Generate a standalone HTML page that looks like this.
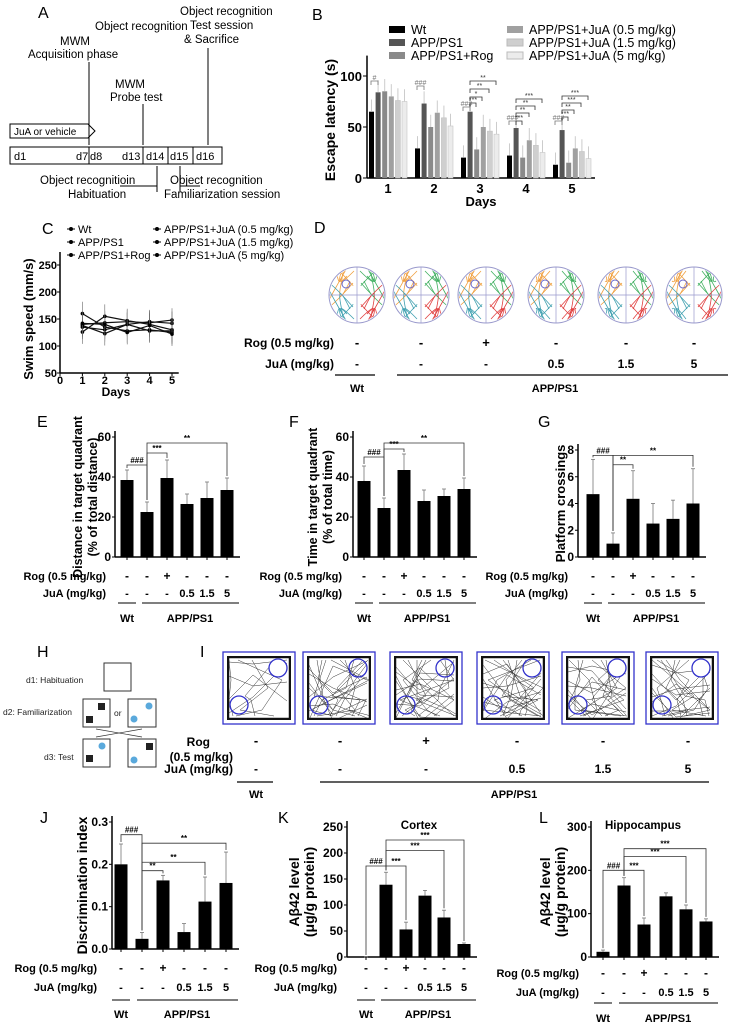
<!DOCTYPE html>
<html><head><meta charset="utf-8">
<style>
body{margin:0;background:#fff;}
svg{display:block;font-family:"Liberation Sans",Arial,sans-serif;}
</style></head>
<body>
<svg id="fig" width="732" height="1026" viewBox="0 0 732 1026" xmlns="http://www.w3.org/2000/svg">
<defs id="defs"></defs>
<g font-size="16" fill="#000">
<text x="38" y="18">A</text><text x="312" y="20">B</text><text x="42" y="234">C</text>
<text x="314" y="233">D</text><text x="37" y="427">E</text><text x="289" y="427">F</text>
<text x="538" y="427">G</text><text x="37" y="657">H</text><text x="200" y="657">I</text>
<text x="40" y="823">J</text><text x="278" y="823">K</text><text x="539" y="823">L</text>
</g>
<g id="panelA" font-size="11.5">
<text x="95" y="30">Object recognition</text>
<text x="60" y="45">MWM</text><text x="28" y="58">Acquisition phase</text>
<text x="180" y="15">Object recognition</text><text x="190" y="29">Test session</text><text x="184" y="43">&amp; Sacrifice</text>
<text x="115" y="88">MWM</text><text x="110" y="101">Probe test</text>
<path d="M10 124 H88 L95 131 L88 138 H10 Z" fill="none" stroke="#000"/>
<text x="14" y="135" font-size="10">JuA or vehicle</text>
<rect x="10" y="147" width="212" height="17" fill="none" stroke="#000"/>
<g font-size="11"><text x="14" y="160">d1</text><text x="76" y="160">d7</text><text x="90" y="160">d8</text><text x="122" y="160">d13</text><text x="146" y="160">d14</text><text x="170" y="160">d15</text><text x="196" y="160">d16</text></g>
<g stroke="#000"><line x1="89" y1="147" x2="89" y2="164"/><line x1="143" y1="147" x2="143" y2="164"/><line x1="168" y1="147" x2="168" y2="164"/><line x1="193" y1="147" x2="193" y2="164"/>
<line x1="89" y1="62" x2="89" y2="145"/><line x1="143" y1="104" x2="143" y2="145"/><line x1="208" y1="48" x2="208" y2="145"/>
<line x1="157" y1="166" x2="157" y2="192"/><line x1="180" y1="166" x2="180" y2="192"/><line x1="120" y1="186" x2="157" y2="186"/><line x1="180" y1="186" x2="200" y2="186"/></g>
<text x="40" y="184">Object recognitioin</text><text x="68" y="198">Habituation</text>
<text x="170" y="184">Object recognition</text><text x="164" y="198">Familiarization session</text>
</g>
<g id="panelB"></g>
<g id="panelC"></g>
<g id="panelD"></g>
<g id="panelE"></g>
<g id="panelF"></g>
<g id="panelG"></g>
<g id="panelH" font-size="8.5" fill="#222">
<text x="26" y="683">d1: Habituation</text><rect x="104" y="663" width="27" height="28" fill="none" stroke="#333"/>
<text x="3" y="715">d2: Familiarization</text>
<rect x="83" y="699" width="27" height="28" fill="none" stroke="#333"/><rect x="86" y="716" width="7" height="7"/><rect x="98" y="703" width="7" height="7"/>
<text x="114" y="716">or</text>
<rect x="128" y="699" width="28" height="28" fill="none" stroke="#333"/><circle cx="134" cy="719" r="3.5" fill="#5aa9dc"/><circle cx="149" cy="706" r="3.5" fill="#5aa9dc"/>
<line x1="96" y1="729" x2="142" y2="737" stroke="#333" stroke-width="0.7"/><line x1="142" y1="729" x2="96" y2="737" stroke="#333" stroke-width="0.7"/>
<text x="44" y="760">d3: Test</text>
<rect x="83" y="739" width="27" height="28" fill="none" stroke="#333"/><circle cx="102" cy="746" r="3.5" fill="#5aa9dc"/><rect x="86" y="755" width="7" height="7"/>
<rect x="128" y="739" width="28" height="28" fill="none" stroke="#333"/><rect x="146" y="743" width="7" height="7"/><circle cx="134" cy="760" r="3.5" fill="#5aa9dc"/>
</g>
<g id="panelI"></g>
<g id="panelJ"></g>
<g id="panelK"></g>
<g id="panelL"></g>
</svg>
<script>
// ---- data ----
const bDays = ["1","2","3","4","5"];
const bSeriesNames = ["Wt","APP/PS1","APP/PS1+Rog","APP/PS1+JuA (0.5 mg/kg)","APP/PS1+JuA (1.5 mg/kg)","APP/PS1+JuA (5 mg/kg)"];
const bWt = [65,29,20,22,13];
const bApp = [84,73,65,49,47];
const bRog = [85,50,28,20,15];
const bJuA05 = [80,64,50,37,29];
const bJuA15 = [76,59,46,32,26];
const bJuA5 = [75,51,43,25,19];
const bTicks = [0,50,100];
const cDays = [1,2,3,4,5];
const cWt = [140,143,145,143,148];
const cApp = [160,135,128,130,125];
const cRog = [126,155,147,140,130];
const cJuA05 = [138,123,140,145,142];
const cJuA15 = [135,130,140,128,128];
const cJuA5 = [142,140,125,138,122];
const cTicks = [50,100,150,200,250];
const groupRog = ["-","-","+","-","-","-"];
const groupJuA = ["-","-","-","0.5","1.5","5"];
const eVals = [38.5,22.5,39.5,26.5,29.5,33.5];
const eErr = [5,5,9,5,8,6];
const eTicks = [0,20,40,60];
const fVals = [38,24.5,43.5,28,30.5,34];
const fErr = [7.5,5,8,5.5,3.5,5.5];
const fTicks = [0,20,40,60];
const gVals = [4.7,1.0,4.35,2.5,2.85,4.0];
const gErr = [2.6,0.8,2.1,1.5,1.4,2.6];
const gTicks = [0,2,4,6,8];
const jVals = [0.2,0.024,0.162,0.04,0.112,0.156];
const jErr = [0.048,0.015,0.012,0.02,0.058,0.073];
const jTicks = [0.0,0.1,0.2,0.3];
const kVals = [0,139,53,118,76,25];
const kErr = [0,24,14,10,14,2];
const kTicks = [0,50,100,150,200,250];
const lVals = [12,165,75,140,110,82];
const lErr = [4,18,15,8,10,6];
const lTicks = [0,100,200,300];

const NS="http://www.w3.org/2000/svg";
function mk(parent,tag,attrs,text){const e=document.createElementNS(NS,tag);for(const k in attrs)e.setAttribute(k,attrs[k]);if(text!==undefined)e.textContent=text;parent.appendChild(e);return e;}
const defs=document.getElementById('defs');

// ---- Panel B ----
(function(){
  const g=document.getElementById('panelB');
  const x0=367,y0=178,y100=76,sy=(y0-y100)/100;
  const Y=v=>y0-v*sy;
  const series=[bWt,bApp,bRog,bJuA05,bJuA15,bJuA5];
  const cols=["#000","#555","#8a8a8a","#a0a0a0","#cfcfcf","#ececec"];
  mk(g,'line',{x1:x0,y1:Y(120),x2:x0,y2:y0,stroke:'#000','stroke-width':1.5});
  mk(g,'line',{x1:x0,y1:y0,x2:595,y2:y0,stroke:'#000','stroke-width':1.5});
  bTicks.forEach(t=>{mk(g,'line',{x1:x0-4,y1:Y(t),x2:x0,y2:Y(t),stroke:'#000'});
    const tx=mk(g,'text',{x:x0-5,y:Y(t)+5,'text-anchor':'end','font-size':13,'font-weight':'bold'},t);
    });
  bDays.forEach((d,i)=>{
    const cx=388+i*46;
    series.forEach((s,j)=>{
      const x=cx-19+j*6.6;
      const r=mk(g,'rect',{x:x,y:Y(s[i]),width:5,height:s[i]*sy,fill:cols[j],stroke:j>3?'#bbb':'none','stroke-width':0.5});
      
      
      mk(g,'line',{x1:x+2.5,y1:Y(s[i]),x2:x+2.5,y2:Y(s[i]+12),stroke:'#ccc'});
    });
    mk(g,'text',{x:cx,y:193,'text-anchor':'middle','font-size':13,'font-weight':'bold'},d);
  });
  mk(g,'text',{x:481,y:206,'text-anchor':'middle','font-size':13,'font-weight':'bold'},'Days');
  mk(g,'text',{x:0,y:0,transform:'translate(335,120) rotate(-90)','text-anchor':'middle','font-size':14,'font-weight':'bold'},'Escape latency (s)');
  series.forEach((s,j)=>{
    const lx=j<3?389:507, ly=26+(j%3)*13;
    mk(g,'rect',{x:lx,y:ly,width:16,height:7,fill:cols[j],stroke:j>3?'#bbb':'none'});
    const t=mk(g,'text',{x:lx+22,y:ly+8,'font-size':12.5},bSeriesNames[j]);
    
  });
  const br=(xa,xb,yb,lab,col)=>{mk(g,'path',{d:`M${xa} ${yb+4}V${yb}H${xb}V${yb+4}`,fill:'none',stroke:col||'#333','stroke-width':0.8});
    mk(g,'text',{x:(xa+xb)/2,y:yb-1,'text-anchor':'middle','font-size':7,fill:col||'#333'},lab);};
  br(371,378,81,'#','#777');br(417,424,86,'###','#777');br(463,470,107,'###','#777');br(470,476,103,'***');br(470,482,97,'*');br(470,489,89,'**');br(470,496,81,'**');
  br(509,516,121,'###','#777');br(516,522,121,'***');br(516,529,113,'**');br(516,535,106,'**');br(516,542,99,'***');
  br(555,562,121,'###','#777');br(562,568,117,'***');br(562,574,110,'**');br(562,581,103,'***');br(562,588,96,'***');
})();

// ---- Panel C ----
(function(){
  const g=document.getElementById('panelC');
  const x0=60,xs=22.4,y0=373,sy=27/50;
  const X=d=>x0+d*xs, Y=v=>y0-(v-50)*sy;
  mk(g,'line',{x1:x0,y1:252,x2:x0,y2:y0,stroke:'#000','stroke-width':1.5});
  mk(g,'line',{x1:x0,y1:y0,x2:X(5.3),y2:y0,stroke:'#000','stroke-width':1.5});
  cTicks.forEach(t=>{mk(g,'line',{x1:x0-3,y1:Y(t),x2:x0,y2:Y(t),stroke:'#000'});
    mk(g,'text',{x:x0-3,y:Y(t)+4,'text-anchor':'end','font-size':11,'font-weight':'bold'},t);});
  [0,1,2,3,4,5].forEach(d=>{mk(g,'line',{x1:X(d),y1:y0,x2:X(d),y2:y0+3,stroke:'#000'});
    mk(g,'text',{x:X(d),y:y0+11,'text-anchor':'middle','font-size':11,'font-weight':'bold'},d);});
  mk(g,'text',{x:X(2.5),y:y0+23,'text-anchor':'middle','font-size':12,'font-weight':'bold'},'Days');
  mk(g,'text',{x:0,y:0,transform:`translate(33,${Y(150)}) rotate(-90)`,'text-anchor':'middle','font-size':13,'font-weight':'bold'},'Swim speed (mm/s)');
  const series=[cWt,cApp,cRog,cJuA05,cJuA15,cJuA5];
  series.forEach((s,j)=>{
    const p=mk(g,'polyline',{points:cDays.map((d,i)=>X(d)+','+Y(s[i])).join(' '),fill:'none',stroke:'#111','stroke-width':1.2});
    
    
    cDays.forEach((d,i)=>{mk(g,'line',{x1:X(d),y1:Y(s[i]-22),x2:X(d),y2:Y(s[i]+22),stroke:'#666','stroke-width':0.6});
      mk(g,'circle',{cx:X(d),cy:Y(s[i]),r:1.8,fill:'#000'});});
  });
  bSeriesNames.forEach((n,j)=>{
    const lx=j<3?67:153, ly=229+(j%3)*13;
    mk(g,'line',{x1:lx,y1:ly,x2:lx+8,y2:ly,stroke:'#000'});mk(g,'circle',{cx:lx+4,cy:ly,r:2});
    const t=mk(g,'text',{x:lx+11,y:ly+4,'font-size':11},n);
    
  });
})();

// ---- group label helper ----
function groupLabels(g,xs,yR,yJ,yl,yLab,lblX,fs){
  mk(g,'text',{x:lblX,y:yR,'text-anchor':'end','font-size':fs,'font-weight':'bold'},'Rog (0.5 mg/kg)');
  mk(g,'text',{x:lblX,y:yJ,'text-anchor':'end','font-size':fs,'font-weight':'bold'},'JuA (mg/kg)');
  xs.forEach((x,i)=>{mk(g,'text',{x:x,y:yR,'text-anchor':'middle','font-size':fs+1,'font-weight':'bold'},groupRog[i]);
    mk(g,'text',{x:x,y:yJ,'text-anchor':'middle','font-size':fs,'font-weight':'bold'},groupJuA[i]);});
  mk(g,'line',{x1:xs[0]-9,y1:yl,x2:xs[0]+9,y2:yl,stroke:'#333','stroke-width':1.2});
  mk(g,'line',{x1:xs[1]-5,y1:yl,x2:xs[5]+12,y2:yl,stroke:'#333','stroke-width':1.2});
  mk(g,'text',{x:xs[0],y:yLab,'text-anchor':'middle','font-size':fs,'font-weight':'bold'},'Wt');
  mk(g,'text',{x:(xs[1]+xs[5])/2+3,y:yLab,'text-anchor':'middle','font-size':fs,'font-weight':'bold'},'APP/PS1');
}

// ---- bar chart helper ----
function barChart(id,vals,errs,ticks,o){
  const g=document.getElementById(id);
  const Y=v=>o.y0-(v-ticks[0])/(ticks[ticks.length-1]-ticks[0])*(o.y0-o.yTop);
  mk(g,'line',{x1:o.ax,y1:o.yTop-6,x2:o.ax,y2:o.y0,stroke:'#000','stroke-width':1.5});
  mk(g,'line',{x1:o.ax,y1:o.y0,x2:o.xs[5]+o.bw,y2:o.y0,stroke:'#000','stroke-width':1.5});
  ticks.forEach(t=>{mk(g,'line',{x1:o.ax-3,y1:Y(t),x2:o.ax,y2:Y(t),stroke:'#000'});
    mk(g,'text',{x:o.ax-4,y:Y(t)+4,'text-anchor':'end','font-size':12,'font-weight':'bold'},o.fmt?o.fmt(t):t);});
  vals.forEach((v,i)=>{
    const x=o.xs[i];
    mk(g,'line',{x1:x,y1:Y(v),x2:x,y2:Y(v+errs[i]),stroke:'#777','stroke-width':0.8});
    mk(g,'line',{x1:x-2,y1:Y(v+errs[i]),x2:x+2,y2:Y(v+errs[i]),stroke:'#777','stroke-width':0.8});
    const r=mk(g,'rect',{x:x-o.bw/2,y:Y(v),width:o.bw,height:Math.max(0,o.y0-Y(v)),fill:'#000'});
    
    
    mk(g,'line',{x1:x,y1:o.y0,x2:x,y2:o.y0+3,stroke:'#000'});
  });
  const br=(a,b,lab,yy)=>{const top=Y(yy);
    mk(g,'path',{d:`M${o.xs[a]} ${Y(vals[a]+errs[a])-2}V${top}H${o.xs[b]}V${Y(vals[b]+errs[b])-2}`,fill:'none',stroke:'#333','stroke-width':0.8});
    mk(g,'text',{x:(o.xs[a]+o.xs[b])/2,y:top-2,'text-anchor':'middle','font-size':8,'font-weight':'bold'},lab);};
  (o.br||[]).forEach(b=>br(b[0],b[1],b[2],b[3]));
  o.title.forEach((t,i)=>mk(g,'text',{x:0,y:0,transform:`translate(${o.tx+i*15},${(o.y0+o.yTop)/2}) rotate(-90)`,'text-anchor':'middle','font-size':o.tfs||13,'font-weight':'bold'},t));
  if(o.head)mk(g,'text',{x:o.head[0],y:o.head[1],'text-anchor':'middle','font-size':11.5,'font-weight':'bold'},o.head[2]);
  groupLabels(g,o.xs,o.rows[0],o.rows[1],o.rows[2],o.rows[3],o.lblX,11);
}
barChart('panelE',eVals,eErr,eTicks,{ax:115,y0:557,yTop:437,bw:13,xs:[127,147,167,187,207,227],title:['Distance in target quadrant','(% of total distance)'],tx:82,tfs:12.5,br:[[0,1,'###',46],[1,2,'***',52],[1,5,'**',57]],rows:[580,597,603,622],lblX:106});
barChart('panelF',fVals,fErr,fTicks,{ax:353,y0:557,yTop:437,bw:13,xs:[364,384,404,424,444,464],title:['Time in target quadrant','(% of total time)'],tx:317,tfs:12.5,br:[[0,1,'###',50],[1,2,'***',54],[1,5,'**',57]],rows:[580,597,603,622],lblX:342});
barChart('panelG',gVals,gErr,gTicks,{ax:578,y0:557,yTop:450,bw:13,xs:[593,613,633,653,673,693],title:['Platform crossings'],tx:565,br:[[0,1,'###',7.6],[1,2,'**',6.9],[1,5,'**',7.6]],rows:[580,597,603,622],lblX:568});
barChart('panelJ',jVals,jErr,jTicks,{ax:112,y0:949,yTop:822,bw:13,xs:[121,142,163,184,205,226],fmt:t=>t.toFixed(1),title:['Discrimination index'],tx:87,tfs:14,br:[[0,1,'###',0.27],[1,2,'**',0.185],[1,4,'**',0.205],[1,5,'**',0.25]],rows:[972,991,1000,1018],lblX:97});
barChart('panelK',kVals,kErr,kTicks,{ax:347,y0:957,yTop:827,bw:13,xs:[366,386,406,425,444,464],title:['Aβ42 level','(μg/g protein)'],tx:299,tfs:14,head:[419,829,'Cortex'],br:[[0,1,'###',175],[1,2,'***',175],[1,4,'***',205],[1,5,'***',225]],rows:[972,991,1000,1018],lblX:337});
barChart('panelL',lVals,lErr,lTicks,{ax:591,y0:957,yTop:827,bw:13,xs:[603,624,644,666,686,706],title:['Aβ42 level','(μg/g protein)'],tx:550,tfs:14,head:[643,829,'Hippocampus'],br:[[0,1,'###',200],[1,2,'***',200],[1,4,'***',232],[1,5,'***',250]],rows:[977,996,1003,1022],lblX:579});

// ---- Panel D ----
(function(){
  const g=document.getElementById('panelD');
  const cx=[357,421,486,556,626,694];
  const cols=['#f0a040','#40b060','#40a0b0','#e04040'];
  cx.forEach((x,i)=>{
    const cp=mk(defs,'clipPath',{id:'clipD'+i});
    mk(cp,'circle',{cx:x,cy:295,r:27});
    const c=mk(g,'circle',{cx:x,cy:295,r:28,fill:'#fff',stroke:'#99c','stroke-width':1});
    
    
    const tg=mk(g,'g',{'clip-path':`url(#clipD${i})`});
    const q=[[-1,-1],[1,-1],[-1,1],[1,1]];
    for(let k=0;k<4;k++){
      const sx=q[k][0],sy=q[k][1];
      for(let m=0;m<3;m++){
        const a=3+m*7+i, b=20-m*5;
        mk(tg,'path',{d:`M${x+sx*a} ${295+sy*(b+4)} Q${x+sx*(24-m*3)} ${295+sy*(3+m*4)} ${x+sx*(12+m*4)} ${295+sy*(24-m*2)} T${x+sx*(22-m*6)} ${295+sy*(6+m*5)} T${x+sx*(4+m*3)} ${295+sy*(12+m*2)}`,fill:'none',stroke:cols[k],'stroke-width':0.8});
      }
    }
    mk(g,'line',{x1:x-28,y1:295,x2:x+28,y2:295,stroke:'#99c','stroke-width':0.7});
    mk(g,'line',{x1:x,y1:267,x2:x,y2:323,stroke:'#99c','stroke-width':0.7});
    mk(g,'circle',{cx:x-11,cy:284,r:4,fill:'none',stroke:'#66c'});
  });
  mk(g,'text',{x:334,y:347,'text-anchor':'end','font-size':12,'font-weight':'bold'},'Rog (0.5 mg/kg)');
  mk(g,'text',{x:334,y:368,'text-anchor':'end','font-size':12,'font-weight':'bold'},'JuA (mg/kg)');
  cx.forEach((x,i)=>{mk(g,'text',{x:x,y:347,'text-anchor':'middle','font-size':13,'font-weight':'bold'},groupRog[i]);
    mk(g,'text',{x:x,y:368,'text-anchor':'middle','font-size':12,'font-weight':'bold'},groupJuA[i]);});
  mk(g,'line',{x1:335,y1:375,x2:375,y2:375,stroke:'#000','stroke-width':1.2});
  mk(g,'line',{x1:397,y1:375,x2:728,y2:375,stroke:'#000','stroke-width':1.2});
  mk(g,'text',{x:357,y:392,'text-anchor':'middle','font-size':11,'font-weight':'bold'},'Wt');
  mk(g,'text',{x:555,y:392,'text-anchor':'middle','font-size':11,'font-weight':'bold'},'APP/PS1');
})();

// ---- Panel I ----
(function(){
  const g=document.getElementById('panelI');
  const bx=[223,303,390,477,562,646];
  bx.forEach((x,i)=>{
    const cp=mk(defs,'clipPath',{id:'clipI'+i});
    mk(cp,'rect',{x:x+4,y:656,width:64,height:64});
    const r=mk(g,'rect',{x:x,y:652,width:72,height:72,fill:'#fff',stroke:'#33c','stroke-width':1.3});
    
    
    const tg=mk(g,'g',{'clip-path':`url(#clipI${i})`});
    const n=i===0?4:9;
    for(let k=0;k<n;k++){
      const p1=(k*23+i*13)%60, p2=(k*37+i*7)%60, p3=(k*11+i*29)%60, p4=(k*41+i*17)%60;
      mk(tg,'path',{d:`M${x+6+p1} ${660} L${x+8+p2} ${680+(k%3)*8} L${x+6+p3} ${700+(k%2)*10} L${x+10+p4} ${716} M${x+6} ${662+p2} L${x+30} ${664+p3} L${x+64} ${660+p4}`,fill:'none',stroke:'#333','stroke-width':0.5});
    }
    mk(tg,'rect',{x:x+5,y:657,width:62,height:62,fill:'none',stroke:'#111','stroke-width':2.5});
    mk(g,'circle',{cx:x+55,cy:668,r:9,fill:(i===0||i===4||i===5)?'#fff':'none',stroke:'#33c','stroke-width':1.3});
    mk(g,'circle',{cx:x+16,cy:705,r:9,fill:'none',stroke:'#33c','stroke-width':1.3});
  });
  const xs=[256,340,426,517,603,688];
  [['Rog',746,210],['(0.5 mg/kg)',761,233],['JuA (mg/kg)',773,233]].forEach(t=>mk(g,'text',{x:t[2],y:t[1],'text-anchor':'end','font-size':12,'font-weight':'bold'},t[0]));
  xs.forEach((x,i)=>{
    mk(g,'text',{x:x,y:745,'text-anchor':'middle','font-size':13,'font-weight':'bold'},groupRog[i]);
    mk(g,'text',{x:x,y:773,'text-anchor':'middle','font-size':12,'font-weight':'bold'},groupJuA[i]);
  });
  mk(g,'line',{x1:237,y1:782,x2:273,y2:782,stroke:'#000','stroke-width':1.2});
  mk(g,'line',{x1:320,y1:782,x2:709,y2:782,stroke:'#000','stroke-width':1.2});
  mk(g,'text',{x:256,y:798,'text-anchor':'middle','font-size':11,'font-weight':'bold'},'Wt');
  mk(g,'text',{x:514,y:798,'text-anchor':'middle','font-size':11,'font-weight':'bold'},'APP/PS1');
})();
</script>
</body></html>
